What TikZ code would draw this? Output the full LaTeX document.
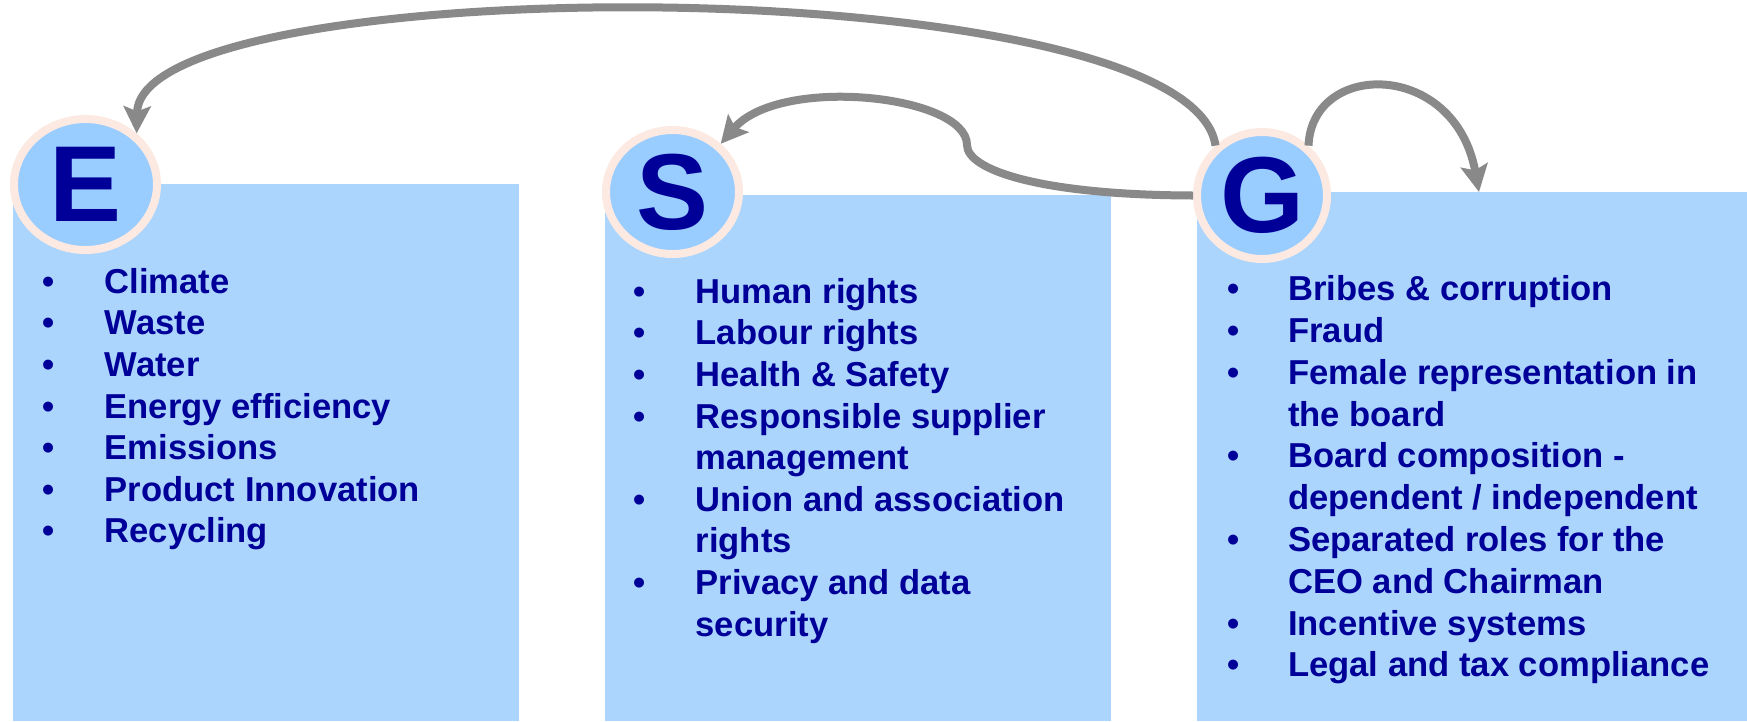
\documentclass[tikz,border=0pt]{standalone}
\usepackage{fontspec}
\setmainfont{Liberation Sans}
\usetikzlibrary{arrows.meta,shapes.geometric}
\definecolor{esgblue}{RGB}{0,0,153}
\definecolor{boxfill}{RGB}{171,213,252}
\definecolor{circfill}{RGB}{153,204,255}
\definecolor{ringcol}{RGB}{252,234,226}
\definecolor{arrowgray}{RGB}{137,137,137}
\newcommand\esgbul[1]{\leavevmode\llap{\makebox[0pt]{\textbullet}\hspace{#1}}}
\begin{document}
\begin{tikzpicture}[x=1pt,y=-1pt,
  panel/.style={fill=boxfill,draw=none,rectangle,inner sep=0pt,anchor=north west},
  letter/.style={ellipse,fill=circfill,draw=ringcol,line width=8pt,inner sep=0pt,
    text=esgblue,font=\bfseries\fontsize{108}{120}\selectfont},
  list/.style={anchor=base west,inner sep=0pt,text=esgblue},
  conn/.style={draw=arrowgray,line width=8pt,-{Stealth[length=27pt,width=27pt,inset=5pt]}}]
\useasboundingbox[fill=white] (0,0) rectangle (1747,721);
% panels
\node[panel,minimum width=506pt,minimum height=537pt] (Ebox) at (13,184) {};
\node[panel,minimum width=506pt,minimum height=526pt] (Sbox) at (605,195) {};
\node[panel,minimum width=550pt,minimum height=529pt] (Gbox) at (1197,192) {};
% letter circles
\node[letter,minimum width=143pt,minimum height=131pt] (E) at (85.5,184.5) {E};
\node[letter,minimum width=133pt,minimum height=124pt] (S) at (672.5,192) {S};
\node[letter,minimum width=130pt,minimum height=127pt] (G) at (1262,195.5) {G};
% lists
\node[list] (Elist) at (104.5,293.3) {\parbox[t]{400pt}{\bfseries\fontsize{34.6}{41.6}\selectfont\raggedright
\esgbul{56pt}Climate\\
\esgbul{56pt}Waste\\
\esgbul{56pt}Water\\
\esgbul{56pt}Energy efficiency\\
\esgbul{56pt}Emissions\\
\esgbul{56pt}Product Innovation\\
\esgbul{56pt}Recycling}};
\node[list] (Slist) at (695.5,303.3) {\parbox[t]{400pt}{\bfseries\fontsize{34.6}{41.6}\selectfont\raggedright
\esgbul{56pt}Human rights\\
\esgbul{56pt}Labour rights\\
\esgbul{56pt}Health \& Safety\\
\esgbul{56pt}Responsible supplier\\
management\\
\esgbul{56pt}Union and association\\
rights\\
\esgbul{56pt}Privacy and data\\
security}};
\node[list] (Glist) at (1288,300.7) {\parbox[t]{450pt}{\bfseries\fontsize{34.6}{41.8}\selectfont\raggedright
\esgbul{55pt}Bribes \& corruption\\
\esgbul{55pt}Fraud\\
\esgbul{55pt}Female representation in\\
the board\\
\esgbul{55pt}Board composition -\\
dependent / independent\\
\esgbul{55pt}Separated roles for the\\
CEO and Chairman\\
\esgbul{55pt}Incentive systems\\
\esgbul{55pt}Legal and tax compliance}};
% connectors
\coordinate (Gtip) at (1479,192);
\draw[conn] (G.133) .. controls (1190,-33) and (140,-33) .. (E.45);
\draw[conn] (G.west) .. controls (1040,195) and (967,170) .. (967,145)
  .. controls (967,95) and (780,75) .. (S.45);
\draw[conn] (G.47) .. controls (1312,60) and (1455,60) .. (Gtip);
\end{tikzpicture}
\end{document}
